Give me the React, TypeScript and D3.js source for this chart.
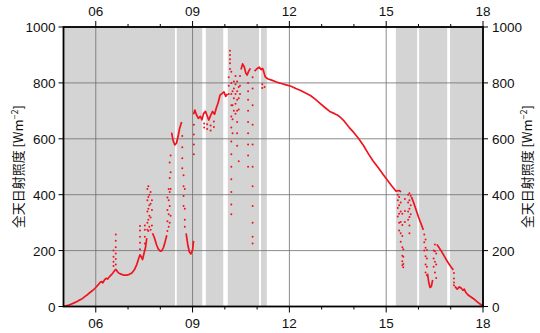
import * as d3 from "d3";

const W = 540;
const H = 333;
const LEFT = 63.5;
const RIGHT = 483;
const TOP = 27;
const BOTTOM = 306.5;

// hours of day
const majorHours = [6, 9, 12, 15, 18];
const minorHours = [5, 6, 7, 8, 9, 10, 11, 12, 13, 14, 15, 16, 17, 18];
const yTicks = [0, 200, 400, 600, 800, 1000];

// cloudy periods (gray bands)
const cloudStart = [5.0, 8.51, 9.41, 10.09, 11.12, 15.3, 16.02, 16.98];
const cloudEnd = [8.455, 9.3, 9.95, 11.06, 11.3, 15.96, 16.89, 18.0];

// continuous trace, null = gap
const traceHours = [
  5.0, 5.08, 5.17, 5.25, 5.33, 5.42, 5.5, 5.58, 5.67, 5.75, 5.83, 5.92, 6.0, 6.08, 6.13, 6.18, 6.22, 6.27, 6.32, 6.37,
  6.42, 6.48, 6.53, 6.58, 6.62, 6.67, 6.72, 6.8, 6.88, 6.96, 7.04, 7.12, 7.2, 7.27, 7.33, 7.37, 7.41, 7.45, 7.49, 7.54, 7.58,
  null,
  7.76, 7.82, 7.88, 7.94, 8.0, 8.05, 8.1, 8.15, 8.2,
  null,
  8.35, 8.4, 8.45, 8.5, 8.55, 8.6, 8.66,
  null,
  8.8, 8.85, 8.9, 8.95, 9.0, 9.03,
  null,
  9.03, 9.07, 9.12, 9.18, 9.24, 9.29, 9.34, 9.4, 9.46, 9.5, 9.56, 9.62, 9.68, 9.74, 9.79, 9.85, 9.91, 9.97, 10.03, 10.08,
  null,
  10.5, 10.55, 10.6, 10.65, 10.69, 10.74, 10.79,
  null,
  10.92, 10.97, 11.02, 11.07, 11.12, 11.17, 11.21, 11.25, 11.32, 11.45, 11.6, 11.75, 11.9, 12.05, 12.2, 12.35, 12.5,
  12.65, 12.8, 12.95, 13.1, 13.25, 13.4, 13.5, 13.57, 13.7, 13.85, 14.0, 14.15, 14.3, 14.45, 14.6, 14.75, 14.9, 15.05,
  15.18, 15.3, 15.4, 15.46,
  null,
  15.78, 15.85, 15.92, 16.0, 16.08, 16.15,
  null,
  16.28, 16.32, 16.36, 16.4, 16.44,
  null,
  16.57, 16.62, 16.7, 16.8, 16.9, 17.0, 17.08,
  null,
  17.13, 17.2, 17.27, 17.32, 17.38, 17.42, 17.47, 17.55, 17.65, 17.75, 17.85, 17.93, 18.0,
];
const traceValues = [
  0, 2, 5, 9, 13, 18, 23, 28, 36, 43, 51, 59, 68, 78, 86, 89, 85, 95, 101, 98,
  106, 113, 120, 128, 133, 125, 119, 115, 112, 112, 115, 120, 132, 150, 172, 185, 178, 168, 188, 210, 245,
  null,
  262, 245, 222, 205, 198, 200, 212, 232, 255,
  null,
  622, 592, 578, 584, 608, 638, 660,
  null,
  262, 222, 195, 188, 202, 235,
  null,
  688, 703, 686, 673, 680, 668, 690, 698, 680, 667, 684, 698, 688, 712, 728, 756, 762, 768, 752, 760,
  null,
  848, 868, 858, 835, 828, 842, 852,
  null,
  842, 848, 853, 856, 848, 852, 838, 822, 815, 810, 803, 798, 793, 788, 780, 773, 764,
  755, 742, 727, 712, 698, 690, 684, 678, 663, 641, 622, 600, 575, 546, 520, 497, 473, 450,
  430, 413, 415, 410,
  null,
  392, 372, 348, 320, 296, 274,
  null,
  118, 85, 68, 72, 95,
  null,
  222, 214, 200, 180, 160, 143, 131,
  null,
  72, 62, 70, 66, 58, 62, 50, 40, 32, 24, 14, 7, 1,
];

// scattered readings under broken cloud: one hour, several values
const strandHours = [
  6.55, 6.62, 7.37, 7.52, 7.6, 7.63, 7.66, 7.7, 7.74, 8.22, 8.26, 8.29, 8.32, 8.68, 8.72, 8.76, 9.04, 9.36, 9.45, 9.56,
  9.66, 10.12, 10.16, 10.2, 10.24, 10.28, 10.33, 10.38, 10.43, 10.47, 10.72, 10.86, 11.16, 11.23, 15.36, 15.4, 15.45,
  15.5, 15.53, 15.58, 15.68, 15.72, 15.76, 16.18, 16.22, 16.26, 16.47, 16.51, 16.55, 17.1,
];
const strandValues = [
  [145, 160, 178, 200],
  [150, 170, 190, 212, 235, 258],
  [205, 228, 250, 272, 288],
  [225, 250, 275, 290],
  [275, 300, 340, 380, 420],
  [270, 310, 350, 392, 430],
  [285, 325, 362, 400],
  [275, 318, 368, 410],
  [290, 345, 380],
  [270, 305, 345, 390],
  [285, 330, 380, 420],
  [300, 360, 410, 460, 515],
  [325, 420, 480, 540],
  [610, 570, 530, 495],
  [470, 430, 395, 360],
  [420, 350, 310, 285],
  [650, 615, 580, 545],
  [655, 640],
  [652, 635],
  [648, 630],
  [662, 642],
  [790, 820, 760],
  [850, 885, 915, 900, 870],
  [840, 800, 760, 720, 680, 640, 590, 545, 500, 455, 410, 365, 330],
  [770, 720, 670, 620],
  [805, 780, 745, 700],
  [825, 795, 760, 725, 690],
  [805, 770, 740, 700, 660, 620, 575],
  [785, 745, 705, 520],
  [825, 790, 760],
  [800, 770, 740, 700, 660, 620, 580, 540, 500],
  [820, 780, 720, 650, 580, 500, 430, 360, 300, 250, 225],
  [795, 782],
  [785],
  [400, 380, 352, 322],
  [392, 362, 332, 300, 272],
  [372, 340, 302, 262, 232],
  [332, 292, 252, 212, 182, 162, 148],
  [205, 178, 152, 140],
  [385, 342, 302],
  [400, 372, 340, 310],
  [405, 380, 350, 320, 290, 262],
  [396, 362, 330],
  [258, 230, 200],
  [240, 210, 180, 150, 122],
  [202, 172, 142, 112],
  [142, 172, 200],
  [122, 160, 198, 222],
  [102, 150, 190],
  [120, 100, 86, 76],
];

const RED = "#f0141e";
const NUM_FONT = "'Liberation Sans', Arial, sans-serif";
const CJK_FONT = "'Noto Sans CJK JP', 'Noto Sans CJK SC', sans-serif";

const YLabel = ({ x, y }: { x: number; y: number }) => (
  <text
    transform={`translate(${x},${y}) rotate(-90)`}
    textAnchor="middle"
    fontFamily={CJK_FONT}
    fontSize={13}
    fill="#111"
  >
    全天日射照度 [Wm
    <tspan fontSize={9} dy={-5}>
      −2
    </tspan>
    <tspan dy={5}>]</tspan>
  </text>
);

export default function App() {
  const x = d3.scaleLinear().domain([5, 18]).range([LEFT, RIGHT]);
  const y = d3.scaleLinear().domain([0, 1000]).range([BOTTOM, TOP]);

  const trace = traceHours.map((h, i) => [h, traceValues[i]] as [number | null, number | null]);
  const line = d3
    .line<[number | null, number | null]>()
    .defined((d) => d[0] !== null && d[1] !== null)
    .x((d) => x(d[0] as number))
    .y((d) => y(d[1] as number));

  const dots = strandHours.flatMap((h, i) => strandValues[i].map((v) => [h, v]));

  const fmt = (h: number) => String(h).padStart(2, "0");

  return (
    <svg width={W} height={H} style={{ position: "absolute", left: 0, top: 0, background: "#fff" }}>
      {/* cloud bands */}
      {cloudStart.map((s, i) => (
        <rect key={i} x={x(s)} y={TOP} width={x(cloudEnd[i]) - x(s)} height={BOTTOM - TOP} fill="#d4d4d4" />
      ))}

      {/* grid */}
      {yTicks.map((t) => (
        <line key={t} x1={LEFT} x2={RIGHT} y1={y(t)} y2={y(t)} stroke="#6e6e6e" strokeWidth={0.8} />
      ))}
      {majorHours.map((h) => (
        <line key={h} x1={x(h)} x2={x(h)} y1={TOP} y2={BOTTOM} stroke="#6e6e6e" strokeWidth={0.8} />
      ))}

      {/* data */}
      <path d={line(trace) ?? ""} fill="none" stroke={RED} strokeWidth={1.7} strokeLinejoin="round" />
      {dots.map((d, i) => (
        <circle key={i} cx={x(d[0])} cy={y(d[1])} r={1} fill={RED} />
      ))}

      {/* frame */}
      <rect x={LEFT} y={TOP} width={RIGHT - LEFT} height={BOTTOM - TOP} fill="none" stroke="#000" strokeWidth={1.8} />

      {/* x ticks top & bottom */}
      {minorHours.map((h) => {
        const major = majorHours.includes(h) || h === 5;
        const len = majorHours.includes(h) ? 6 : 3;
        return (
          <g key={h}>
            {h !== 5 && <line x1={x(h)} x2={x(h)} y1={TOP} y2={TOP - len} stroke="#000" strokeWidth={1} />}
            {h !== 5 && <line x1={x(h)} x2={x(h)} y1={BOTTOM} y2={BOTTOM + len} stroke="#000" strokeWidth={1} />}
            {major && h !== 5 && (
              <>
                <text x={x(h)} y={16} textAnchor="middle" fontFamily={NUM_FONT} fontSize={13.5} fill="#111">
                  {fmt(h)}
                </text>
                <text x={x(h)} y={328} textAnchor="middle" fontFamily={NUM_FONT} fontSize={13.5} fill="#111">
                  {fmt(h)}
                </text>
              </>
            )}
          </g>
        );
      })}

      {/* y ticks left & right */}
      {yTicks.map((t) => (
        <g key={t}>
          <line x1={LEFT - 5} x2={LEFT} y1={y(t)} y2={y(t)} stroke="#000" strokeWidth={1} />
          <line x1={RIGHT} x2={RIGHT + 5} y1={y(t)} y2={y(t)} stroke="#000" strokeWidth={1} />
          <text x={LEFT - 8} y={y(t) + 5} textAnchor="end" fontFamily={NUM_FONT} fontSize={13.5} fill="#111">
            {t}
          </text>
          <text x={RIGHT + 9} y={y(t) + 5} textAnchor="start" fontFamily={NUM_FONT} fontSize={13.5} fill="#111">
            {t}
          </text>
        </g>
      ))}

      <YLabel x={23} y={(TOP + BOTTOM) / 2} />
      <YLabel x={532} y={(TOP + BOTTOM) / 2} />
    </svg>
  );
}
